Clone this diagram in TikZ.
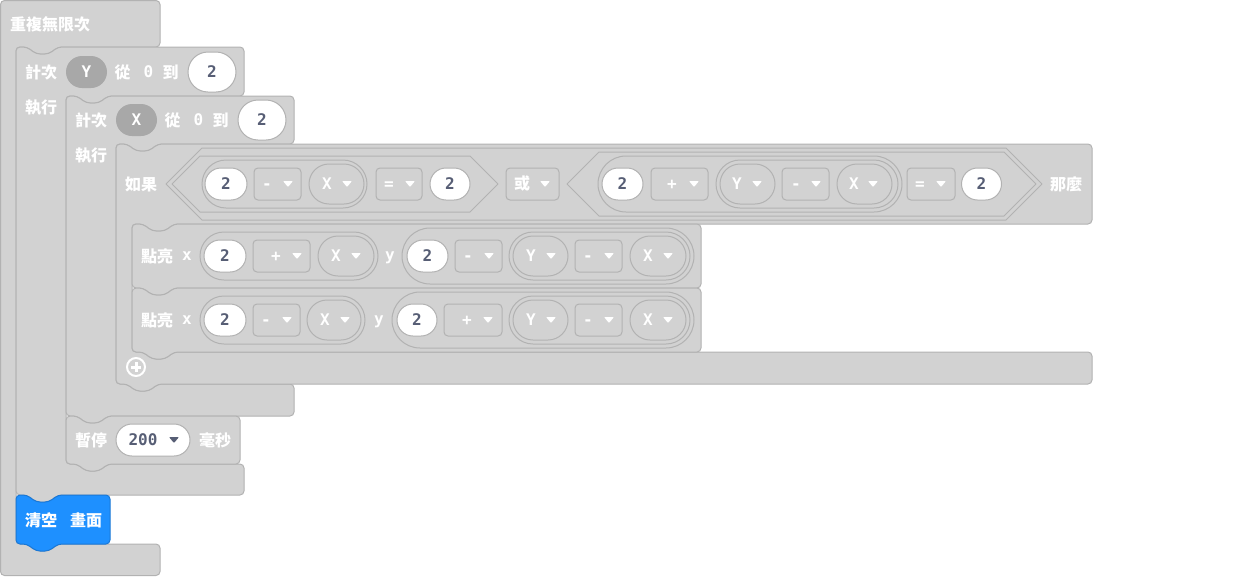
\documentclass[tikz,border=0pt]{standalone}
\usepackage{fontspec}
\newfontfamily\cjk{Noto Sans CJK TC}
\newfontfamily\mono{DejaVu Sans Mono}
\usetikzlibrary{shapes.misc}
\definecolor{bg}{RGB}{210,210,210}
\definecolor{ln}{RGB}{178,178,178}
\definecolor{vdark}{RGB}{168,168,168}
\definecolor{txt}{RGB}{87,94,117}
\definecolor{bl}{RGB}{30,144,255}
\definecolor{blln}{RGB}{26,120,214}
\tikzset{
 blk/.style={fill=bg,draw=ln,line width=1pt,rounded corners=4pt},
 hexs/.style={fill=bg,draw=ln,line width=1pt,line join=round},
 pillb/.style={rounded rectangle,fill=bg,draw=ln,line width=1pt,inner sep=0},
 varp/.style={rounded rectangle,fill=bg,draw=ln,line width=1pt,inner sep=0,minimum height=40},
 vd/.style={rounded rectangle,fill=vdark,inner sep=0,minimum height=32,minimum width=41},
 ddr/.style={rectangle,rounded corners=4pt,fill=bg,draw=ln,line width=1pt,inner sep=0,minimum height=32},
 numo/.style={rounded rectangle,fill=white,draw=ln,line width=1pt,inner sep=0,minimum height=32,text=txt,font=\mono\bfseries\fontsize{16}{16}\selectfont},
 wl/.style={text=white,inner sep=0,font=\cjk\bfseries\fontsize{16}{16}\selectfont},
 wm/.style={text=white,inner sep=0,font=\mono\bfseries\fontsize{16}{16}\selectfont},
 dm/.style={text=txt,inner sep=0,font=\mono\bfseries\fontsize{16}{16}\selectfont},
 ddw/.pic={\fill[white,rounded corners=0.8pt] (-5,-3) -- (5,-3) -- (0,3) -- cycle;},
 ddk/.pic={\fill[txt,rounded corners=0.8pt] (-5,-3) -- (5,-3) -- (0,3) -- cycle;},
 ntop/.style 2 args={insert path={-- ({#1+11},#2) -- ({#1+20},{#2+7}) -- ({#1+33},{#2+7}) -- ({#1+42},#2)}},
 nbot/.style 2 args={insert path={-- ({#1+42},#2) -- ({#1+33},{#2+7}) -- ({#1+20},{#2+7}) -- ({#1+11},#2)}}
}
\newcommand\mkDrop[7]{\node[ddr,minimum width=#4] (#1) at (#2,#3) {}; \node[wm,anchor=base] (#1t) at (#5,{#3+5.8}) {#6}; \pic at (#7,#3) {ddw};}
\newcommand\mkVar[7]{\node[varp,minimum width=#4] (#1) at (#2,#3) {}; \node[wm] (#1t) at (#5,#3) {#6}; \pic at (#7,#3) {ddw};}
\newcommand\mkNum[4]{\node[numo,minimum width=#4] (#1) at (#2,#3) {2};}
\newcommand\mkPill[5]{\node[pillb,minimum width=#4,minimum height=#5] (#1) at (#2,#3) {};}
\begin{document}
\begin{tikzpicture}[x=1pt,y=-1pt]
\useasboundingbox (0,0) rectangle (1248,576);
% forever
\draw[blk] (80,0.5) -- (160,0.5) -- (160,47) [nbot={16}{47}] -- (16,47) -- (16,544) [ntop={16}{544}] -- (160,544) -- (160,575.5) -- (0.5,575.5) -- (0.5,0.5) -- cycle;
% for Y
\draw[blk] (130,47) -- (244,47) -- (244,96) [nbot={66}{96}] -- (66,96) -- (66,464) [ntop={66}{464}] -- (244,464) -- (244,495) [nbot={16}{495}] -- (16,495) -- (16,47) [ntop={16}{47}] -- cycle;
% for X
\draw[blk] (200,96) -- (294,96) -- (294,144) [nbot={116}{144}] -- (116,144) -- (116,384) [ntop={116}{384}] -- (294,384) -- (294,416) [nbot={66}{416}] -- (66,416) -- (66,96) [ntop={66}{96}] -- cycle;
% if
\draw[blk] (600,144) -- (1092,144) -- (1092,224) [nbot={132}{224}] -- (132,224) -- (132,352) [ntop={132}{352}] -- (1092,352) -- (1092,384) [nbot={116}{384}] -- (116,384) -- (116,144) [ntop={116}{144}] -- cycle;
% plot rows
\draw[blk] (400,224) -- (701,224) -- (701,288) [nbot={132}{288}] -- (132,288) -- (132,224) [ntop={132}{224}] -- cycle;
\draw[blk] (400,288) -- (701,288) -- (701,352) [nbot={132}{352}] -- (132,352) -- (132,288) [ntop={132}{288}] -- cycle;
% pause
\draw[blk] (150,416) -- (240,416) -- (240,464) [nbot={66}{464}] -- (66,464) -- (66,416) [ntop={66}{416}] -- cycle;
% clear
\draw[blk,fill=bl,draw=blln] (80,495) -- (110,495) -- (110,544) [nbot={16}{544}] -- (16,544) -- (16,495) [ntop={16}{495}] -- cycle;

% texts of loops
\node[wl] (t0) at (50,24) {重複無限次};
\node[wl] (fy1) at (41,72) {計次};
\node[vd] (fyv) at (86.5,72) {};
\node[wm] (fyvt) at (86.5,72) {Y};
\node[wl] (fy2) at (122.5,72) {從};
\node[wm] (fy3) at (148.5,72) {0};
\node[wl] (fy4) at (170.5,72) {到};
\node[numo,minimum width=48,minimum height=40] (fy5) at (212,72) {2};
\node[wl] (fy6) at (41,108) {執行};
\node[wl] (fx1) at (91,120) {計次};
\node[vd] (fxv) at (136.5,120) {};
\node[wm] (fxvt) at (136.5,120) {X};
\node[wl] (fx2) at (172.5,120) {從};
\node[wm] (fx3) at (198.5,120) {0};
\node[wl] (fx4) at (220.5,120) {到};
\node[numo,minimum width=48,minimum height=40] (fx5) at (262,120) {2};
\node[wl] (fx6) at (91,156) {執行};

% if header
\node[wl] (if1) at (141,184) {如果};
\draw[hexs] (166,184) -- (202,148) -- (1006,148) -- (1042,184) -- (1006,220) -- (202,220) -- cycle;
\draw[hexs] (172,184) -- (200,156) -- (470,156) -- (498,184) -- (470,212) -- (200,212) -- cycle;
\draw[hexs] (567,184) -- (599,152) -- (1004,152) -- (1036,184) -- (1004,216) -- (599,216) -- cycle;
\mkPill{c1p}{284.5}{184}{165}{48}
\mkNum{c1a}{226}{184}{42}
\mkDrop{c1b}{277.5}{184}{47}{267}{-}{288}
\mkVar{c1c}{336.5}{184}{55}{327}{X}{347}
\mkDrop{c1d}{399}{184}{46}{389}{=}{410}
\mkNum{c1e}{450}{184}{40}
\mkDrop{orb}{532.5}{184}{53}{522}{\cjk 或}{545}
\mkPill{c2p}{750}{184}{304}{56}
\mkNum{c2a}{622.5}{184}{41}
\mkDrop{c2b}{679.5}{184}{57}{672}{+}{694}
\mkPill{c2q}{807}{184}{182}{48}
\mkVar{c2c}{747.5}{184}{55}{737}{Y}{757}
\mkDrop{c2d}{805.5}{184}{47}{796}{-}{816}
\mkVar{c2e}{864.5}{184}{55}{854}{X}{873}
\mkDrop{c2f}{931}{184}{48}{920}{=}{941}
\mkNum{c2g}{981.5}{184}{40}
\node[wl] (if2) at (1066,184) {那麼};

% row 1
\node[wl] (r1a) at (157,256) {點亮};
\node[wm] (r1x) at (187,256) {x};
\mkPill{r1p}{289}{256}{178}{48}
\mkNum{r1n}{225}{256}{42}
\mkDrop{r1d}{281.5}{256}{57}{276}{+}{297}
\mkVar{r1v}{346}{256}{56}{336}{X}{356}
\node[wm,anchor=base] (r1y) at (390,260.4) {y};
\mkPill{r1q}{548}{256}{292}{56}
\mkNum{r1m}{427.5}{256}{41}
\mkDrop{r1e}{478.5}{256}{47}{468}{-}{489}
\mkPill{r1r}{599.5}{256}{181}{48}
\mkVar{r1w}{540.5}{256}{55}{531}{Y}{551}
\mkDrop{r1f}{598.5}{256}{47}{588}{-}{609}
\mkVar{r1u}{658}{256}{56}{648}{X}{668}

% row 2
\node[wl] (r2a) at (157,320) {點亮};
\node[wm] (r2x) at (187,320) {x};
\mkPill{r2p}{282.5}{320}{165}{48}
\mkNum{r2n}{225}{320}{42}
\mkDrop{r2d}{276.5}{320}{47}{266}{-}{287}
\mkVar{r2v}{334}{320}{54}{325}{X}{345}
\node[wm,anchor=base] (r2y) at (379,324.4) {y};
\mkPill{r2q}{543}{320}{302}{56}
\mkNum{r2m}{417}{320}{40}
\mkDrop{r2e}{473}{320}{58}{467}{+}{488}
\mkPill{r2r}{599.5}{320}{181}{48}
\mkVar{r2w}{540.5}{320}{55}{531}{Y}{551}
\mkDrop{r2f}{598.5}{320}{47}{588}{-}{609}
\mkVar{r2u}{658}{320}{56}{648}{X}{668}

% plus icon
\node[circle,draw=white,line width=2pt,minimum size=18,inner sep=0] (plus) at (136,367) {};
\draw[white,line width=3pt] ([xshift=-5pt]plus.center) -- ([xshift=5pt]plus.center);
\draw[white,line width=3pt] ([yshift=-5pt]plus.center) -- ([yshift=5pt]plus.center);

% pause
\node[wl] (pa1) at (91,440) {暫停};
\node[numo,minimum width=74] (pa2) at (153,440) {};
\node[dm] (pa2t) at (143,440) {200};
\pic at (174,440) {ddk};
\node[wl] (pa3) at (215,440) {毫秒};

% clear
\node[wl] (cl1) at (41,520) {清空};
\node[wl] (cl2) at (86,520) {畫面};
\end{tikzpicture}
\end{document}
